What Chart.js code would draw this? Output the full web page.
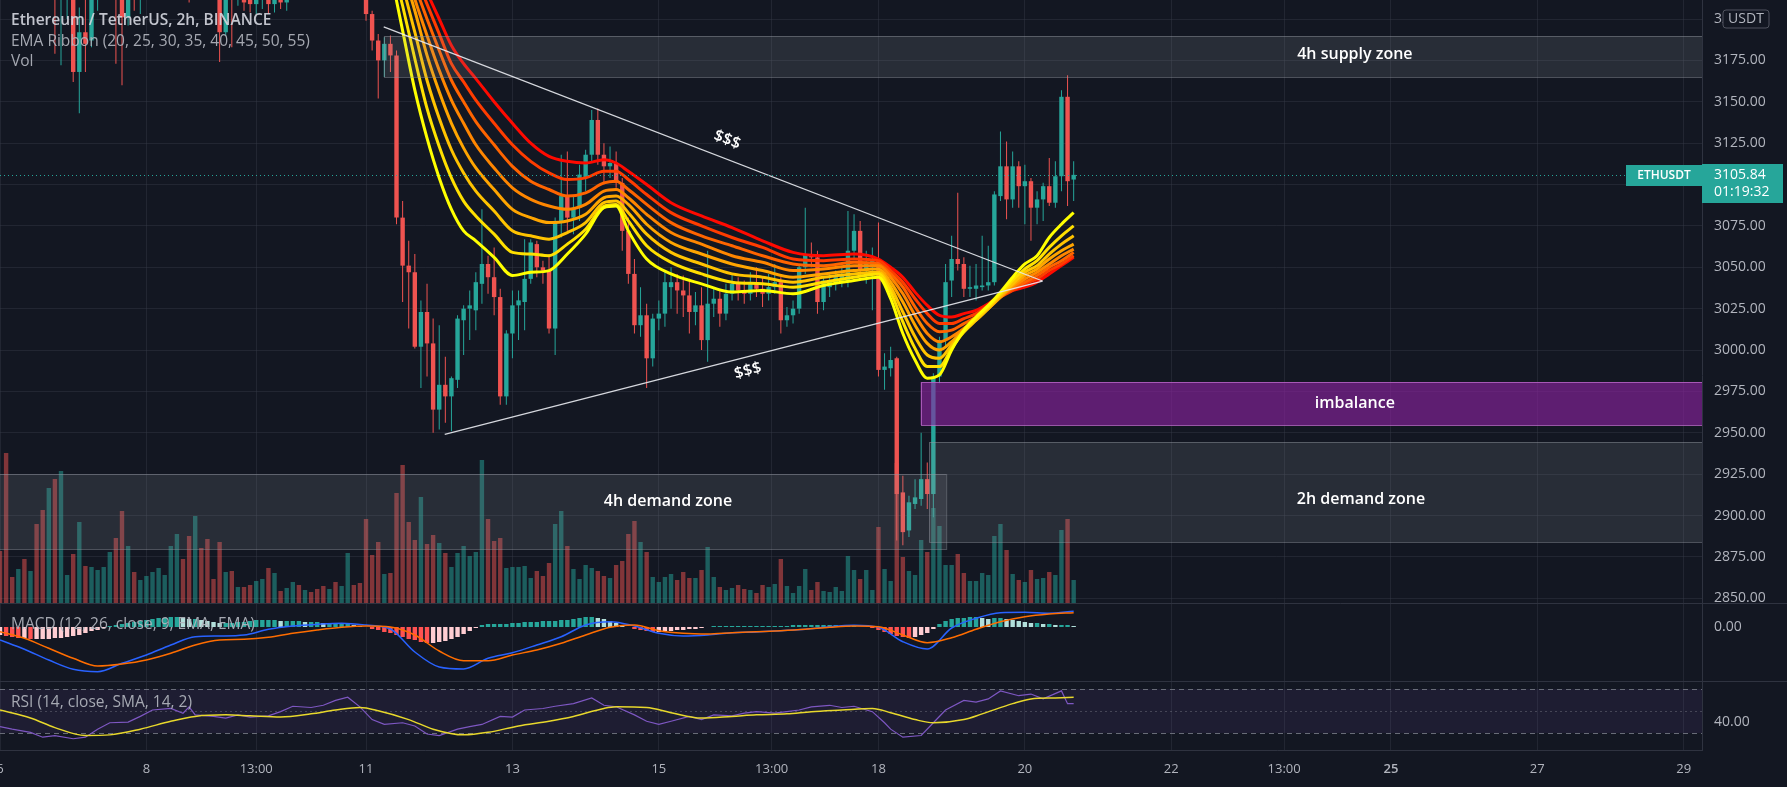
<!DOCTYPE html>
<html>
<head>
<meta charset="utf-8">
<title>ETHUSDT 2h</title>
<script src="https://cdn.jsdelivr.net/npm/chart.js@4.4.0/dist/chart.umd.min.js"></script>
<style>
  html, body { margin: 0; padding: 0; background: #131722; }
  #wrap { width: 1787px; height: 787px; position: relative; background: #131722; }
</style>
</head>
<body>
<div id="wrap"><canvas id="c"></canvas></div>
<script>
// ---- candles (2h bars, index 0 = day 6 00:00) ----
const open = [
  3290,3272,3240,3232,3242,3228,3236,3220,3214,3232, 3214,3225,3228,3168,3192,3187,3218,3226,3234,3246,
  3222,3201,3224,3216,3228,3236,3242,3250,3254,3266, 3280,3270,3252,3274,3262,3246,3240,3192,3225,3214,
  3220,3212,3209,3214,3218,3209,3214,3210,3216,3222, 3218,3226,3222,3218,3214,3220,3215,3224,3240,3230,
  3218,3203,3187,3175,3185,3178,3080,3051,3047,3002, 3023,3004,2964,2979,2972,2982,3018,3025,3024,3040,
  3052,3044,3032,2972,3010,3027,3029,3043,3064,3050, 3048,3013,3078,3093,3080,3086,3104,3118,3139,3118,
  3111,3113,3101,3072,3046,3015,3021,2995,3019,3022, 3038,3041,3036,3033,3023,3027,3006,3028,3031,3022,
  3034,3040,3036,3034,3040,3037,3034,3038,3041,3018, 3021,3025,3050,3058,3056,3029,3038,3040,3042,3042,
  3060,3072,3048,3050,3054,2988,2989,2995,2914,2891, 2907,2910,2922,2913,2984,3006,3042,3055,3052,3037,
  3037,3038,3039,3041,3093,3111,3091,3111,3099,3102, 3086,3091,3099,3089,3105,3153,3103
];
const high = [
  3300,3276,3248,3250,3246,3240,3240,3228,3232,3236, 3230,3240,3234,3207,3216,3224,3232,3240,3252,3250,
  3226,3230,3230,3232,3240,3248,3256,3260,3270,3286, 3288,3276,3280,3282,3268,3252,3244,3230,3232,3224,
  3226,3218,3218,3222,3222,3218,3218,3220,3226,3228, 3232,3230,3226,3222,3224,3226,3230,3250,3246,3234,
  3222,3205,3191,3189,3190,3181,3090,3066,3058,3030, 3040,3019,3015,2996,2984,3021,3027,3036,3047,3085,
  3057,3062,3037,3012,3036,3036,3067,3067,3066,3054, 3058,3080,3118,3120,3093,3112,3121,3145,3146,3125,
  3123,3120,3104,3080,3055,3038,3028,3022,3030,3048, 3050,3046,3045,3043,3035,3038,3060,3038,3036,3040,
  3046,3044,3042,3047,3050,3044,3046,3052,3044,3026, 3030,3052,3086,3065,3060,3044,3046,3048,3050,3084,
  3082,3078,3060,3062,3077,2998,3002,2996,2924,2912, 2922,2950,2932,2986,3008,3052,3069,3095,3056,3051,
  3052,3069,3063,3096,3132,3126,3120,3114,3112,3104, 3096,3101,3116,3114,3157,3166,3114
];
const low = [
  3265,3230,3225,3228,3222,3224,3214,3212,3212,3179, 3172,3200,3162,3143,3168,3183,3205,3220,3228,3173,
  3160,3196,3205,3203,3222,3230,3236,3244,3248,3260, 3264,3210,3248,3256,3240,3234,3174,3190,3183,3208,
  3205,3204,3203,3206,3203,3204,3206,3205,3212,3214, 3214,3216,3214,3212,3212,3212,3213,3220,3226,3214,
  3199,3181,3152,3165,3168,3076,3029,3013,3001,2977, 2984,2950,2952,2956,2951,2977,2997,3006,3012,3028,
  3034,3021,2967,2967,2995,3006,3012,3040,3044,3040, 3010,2997,3068,3072,3070,3078,3096,3113,3112,3100,
  3104,3098,3060,3040,3010,3008,2977,2990,3012,3014, 3025,3022,3020,3010,3015,3000,2993,3020,3014,3018,
  3030,3030,3028,3030,3032,3026,3030,3034,3010,3014, 3016,3022,3046,3050,3022,3024,3032,3036,3038,3038,
  3055,3044,3040,3024,2984,2976,2984,2885,2882,2887, 2904,2906,2904,2899,2980,3002,3032,3048,3032,3032,
  3030,3036,3036,3039,3090,3079,3086,3086,3076,3066, 3076,3078,3087,3086,3096,3087,3090
];
const close = [
  3272,3240,3232,3242,3228,3236,3220,3214,3226,3214, 3225,3232,3168,3192,3185,3218,3226,3234,3246,3222,
  3201,3224,3216,3228,3236,3242,3250,3254,3266,3280, 3270,3252,3274,3262,3246,3240,3192,3225,3214,3220,
  3210,3209,3214,3218,3209,3214,3210,3216,3222,3218, 3226,3222,3218,3214,3220,3215,3224,3240,3230,3218,
  3203,3187,3175,3185,3178,3080,3051,3047,3002,3023, 3004,2964,2979,2972,2983,3019,3025,3027,3041,3052,
  3044,3032,2972,3010,3027,3030,3043,3065,3050,3048, 3013,3078,3093,3080,3086,3106,3118,3139,3118,3111,
  3113,3101,3072,3046,3015,3021,2995,3019,3022,3041, 3041,3036,3033,3023,3027,3006,3028,3031,3022,3034,
  3040,3036,3034,3040,3037,3034,3038,3041,3018,3021, 3025,3050,3058,3056,3029,3042,3042,3044,3046,3060,
  3072,3048,3052,3054,2988,2990,2994,2913,2890,2908, 2911,2922,2913,2984,3006,3041,3055,3052,3037,3038,
  3039,3039,3041,3094,3111,3091,3111,3099,3102,3086, 3091,3099,3089,3105,3153,3102,3105.84
];
const volume = [
  52,150,26,34,44,32,79,93,115,124, 132,28,49,81,37,36,33,36,51,65,
  92,57,31,23,27,31,35,28,57,69, 44,67,87,55,64,24,61,31,32,16,
  16,18,22,24,35,30,12,15,21,18, 13,11,14,17,14,21,17,50,18,20,
  84,48,61,29,30,110,138,81,63,106, 59,68,60,50,36,50,57,47,51,143,
  84,62,65,35,36,36,37,25,32,27, 40,79,92,57,34,24,38,35,32,27,
  25,38,42,69,82,61,51,26,21,26, 29,23,31,25,25,33,56,26,16,13,
  15,18,14,13,10,18,16,19,44,17, 10,17,34,13,21,12,11,16,12,47,
  33,24,33,13,76,34,22,140,46,32, 28,63,51,95,77,38,38,49,30,22,
  22,30,28,67,79,53,29,23,21,33, 24,25,31,28,73,84,23
];

// ---- EMA ribbon (20 ... 55), read at these bar indexes ----
const ribbonIdx = [64,66,68,70,72,74,76,78,81,84,87,90,93,96,99,101,103,106,110,115,120,125,130,135,140,144,146,148,150,152,154,156,158,160,162,164,166,168,170,172,174,176];
const ema20 = [3229,3193,3157,3128,3104,3085,3072,3066,3056,3045,3047,3048,3058,3070,3086,3087,3072,3055,3046,3040,3035,3036,3034,3039,3042,3044,3031,3010,2994,2983,2985,3000,3012,3020,3027,3035,3044,3052,3057,3068,3076,3083];
const ema25 = [3238,3208,3176,3146,3123,3104,3090,3081,3070,3059,3058,3057,3064,3073,3087,3088,3078,3063,3053,3046,3041,3040,3038,3041,3044,3046,3035,3017,3001,2990,2990,3001,3011,3019,3026,3034,3042,3049,3054,3062,3069,3075];
const ema30 = [3245,3220,3192,3163,3140,3121,3107,3096,3084,3072,3069,3067,3071,3077,3089,3090,3083,3070,3059,3052,3046,3044,3041,3044,3046,3047,3038,3023,3008,2997,2995,3003,3011,3018,3025,3033,3040,3047,3051,3058,3064,3069];
const ema35 = [3250,3229,3205,3178,3156,3137,3122,3110,3097,3085,3080,3077,3078,3082,3092,3093,3088,3076,3065,3058,3052,3048,3044,3046,3048,3049,3041,3029,3015,3004,3000,3005,3012,3018,3025,3032,3039,3045,3049,3055,3060,3064];
const ema40 = [3254,3236,3212,3190,3169,3151,3137,3124,3110,3098,3091,3087,3085,3088,3096,3097,3092,3082,3071,3064,3057,3053,3048,3049,3051,3051,3044,3034,3021,3010,3005,3008,3013,3019,3025,3032,3038,3043,3047,3052,3057,3061];
const ema45 = [3257,3241,3220,3200,3181,3163,3150,3138,3124,3111,3102,3097,3093,3095,3101,3102,3097,3088,3077,3069,3063,3057,3052,3051,3053,3052,3046,3038,3026,3016,3011,3012,3016,3020,3026,3032,3037,3041,3045,3050,3054,3059];
const ema50 = [3259,3245,3227,3209,3191,3173,3162,3151,3137,3124,3114,3107,3103,3104,3108,3108,3103,3094,3083,3075,3068,3062,3055,3054,3055,3054,3048,3041,3031,3022,3016,3016,3019,3022,3027,3032,3036,3040,3043,3048,3052,3057];
const ema55 = [3261,3248,3232,3216,3200,3184,3173,3164,3150,3137,3125,3117,3114,3113,3115,3113,3108,3100,3089,3081,3074,3066,3059,3057,3058,3055,3050,3044,3035,3027,3021,3020,3022,3024,3028,3033,3036,3038,3041,3046,3051,3056];
const ribbon = [ema20, ema25, ema30, ema35, ema40, ema45, ema50, ema55];
const ribbonColors = ['#ffff00','#ffe000','#ffc300','#ffa500','#ff8600','#ff6400','#ff3c00','#ff0a00'];

// ---- MACD (12, 26, 9) ----
const macdIdx = [0,4,8,12,16,20,24,28,32,36,40,44,48,52,56,60,64,68,72,76,80,84,88,92,96,100,104,108,112,116,120,124,128,132,136,140,144,148,152,156,160,164,168,172,176];
const macdLine = [-13,-22.3,-33,-42.3,-44.7,-36.3,-28,-18,-9.7,-9,-8,-2.3,1,2.7,3.7,2,-2,-25,-40,-42,-31.3,-25.7,-18,-9.7,2,5.3,1,-6.3,-9,-8,-5.7,-5,-3.7,-2.3,0.3,1.7,-0.3,-14.7,-22,-1,8.7,14.3,14.7,13.7,15.7];
const macdSignal = [-4.7,-11.3,-21.3,-31.3,-39,-37,-33,-26.3,-18,-13,-12.3,-10.3,-6.3,-3,-0.3,1,0,-8,-24,-33.7,-33.7,-28,-23,-16.3,-8,-0.3,2,-3.7,-6.3,-7,-5.7,-4.7,-3.7,-2.3,-0.3,1,0.3,-8,-15.7,-10.7,-2.3,5.3,10.3,13,14.3];
const macdHist = [
  -8,-9,-10,-11,-11,-12,-12,-12,-12,-11, -11,-10,-9,-8,-6,-4,-3,-1,1,2,
  3,4,5,6,7,8,9,9,10,10, 9,8,8,7,6,5,4,4,4,5,
  5,6,7,7,7,7,6,6,6,6, 5,5,5,4,4,4,4,4,2,1,
  0,-2,-3,-5,-6,-8,-10,-12,-13,-15, -16,-16,-15,-14,-12,-10,-7,-4,-1,2,
  3,3,3,3,4,4,5,5,5,6, 6,6,7,7,8,9,10,10,9,8,
  6,4,2,0,-2,-3,-4,-5,-5,-4, -4,-3,-3,-2,-2,-1,0,1,1,1,
  1,1,1,1,1,1,1,1,1,1, 2,2,2,2,2,2,2,2,1,1,
  1,0,0,-1,-3,-5,-7,-9,-10,-11, -10,-8,-6,-2,3,6,8,9,9,10,
  10,9,8,9,9,8,7,6,5,4, 4,3,3,2,2,2,1
];

// ---- RSI (14) and its SMA(14) ----
const rsiIdx = [0,2,5,7,9,12,14,16,18,21,23,25,28,30,31,32,35,37,39,41,44,46,48,51,53,55,57,59,61,63,66,68,70,72,75,77,79,82,84,86,89,91,94,97,99,101,104,106,108,110,113,115,117,120,122,124,127,129,131,133,136,138,140,143,145,146,148,151,153,155,158,160,162,164,167,169,171,174,175,176];
const rsiVal = [35.8,33.5,30.6,26.2,27.7,24.8,26.2,33.5,39.3,39.9,45.1,50.9,52.3,48,53.8,46.5,45.1,43.6,46.5,44.5,45.6,49.4,54.3,53.2,55.2,59.6,62.5,53.8,42.2,37.8,39.3,36.4,29.1,27.7,33.5,35.8,37.8,45.1,44.5,50.9,52.3,54.3,56.7,61.9,55.2,53.8,46.5,40.7,37.8,40.7,45.1,42.2,46.5,45.6,48,49.4,48,49.4,50.9,53.8,55.2,53.2,54.3,49.4,39.3,33.5,26.2,27.7,39.3,50.9,59.6,58.1,61,68.3,63.9,65.4,61,68.3,56.7,56.7];
const rsiMaIdx = [0,5,9,14,18,23,28,32,37,41,46,51,55,59,62,67,71,76,80,85,90,94,99,101,106,110,115,120,124,129,133,138,143,146,150,153,158,161,166,169,173,176];
const rsiMaVal = [50.9,43.6,34.9,27.7,28.3,33.5,40.7,45.1,46.5,45.6,44.5,47.4,50.9,53.2,50.3,42.2,33.5,28.3,30.6,36.4,40.7,45.1,52.3,53.8,53.2,48.5,43.6,45.1,46.5,47.4,49.4,50.9,52.3,48.5,42.2,39.3,42.2,47.4,56.7,61,61.9,62.5];
const rsiLevels = [30, 50, 70];

// ---- axes ----
const priceTicks = [2850,2875,2900,2925,2950,2975,3000,3025,3050,3075,3100,3125,3150,3175,3200];
const timeTicks = [0,24,42,60,84,108,126.5,144,168,192,210.5,228,252,276];
const timeLabels = ['6','8','13:00','11','13','15','13:00','18','20','22','13:00','25','27','29'];

// ---- drawings (bar index, price) ----
const supplyZone = [62.9, 400, 3189.7, 3165.1];
const demand4h = [-10, 155.1, 2924.9, 2879.6];
const imbalance = [150.9, 400, 2980.6, 2954.9];
const demand2h = [152.3, 400, 2944.6, 2884.2];
const zoneLabels = [
  ['4h supply zone', 222.1, 3178.3],
  ['imbalance', 222.1, 2968.0],
  ['2h demand zone', 223.1, 2909.9],
  ['4h demand zone', 109.5, 2908.8]
];
const trendUpper = [[62.9, 3195.3], [170.9, 3041.7]];
const trendLower = [[72.9, 2949.1], [170.9, 3041.7]];
const dollarLabels = [['$$$', 119.2, 3126.9, 0], ['$$$', 122.6, 2987.3, 1]];
const lastPrice = 3105.84;
const countdown = '01:19:32';
const symbol = 'ETHUSDT';
const legendLines = ['Ethereum / TetherUS, 2h, BINANCE', 'EMA Ribbon (20, 25, 30, 35, 40, 45, 50, 55)', 'Vol'];
const paneTitles = ['MACD (12, 26, close, 9, EMA, EMA)', 'RSI (14, close, SMA, 14, 2)'];

const UP = '#26a69a', DN = '#ef5350';
const FONT = '"Open Sans", "DejaVu Sans", sans-serif';
const L = { axisW: 85, timeH: 37, mainBottom: 603, macdBottom: 681 };

const bars = open.map((_, i) => i);
const isUp = i => close[i] >= open[i];
const candleCol = bars.map(i => isUp(i) ? UP : DN);
const volCol = bars.map(i => isUp(i) ? 'rgba(38,166,154,0.5)' : 'rgba(239,83,80,0.5)');
const histCol = macdHist.map((h, i) => {
  const p = i > 0 ? macdHist[i - 1] : h;
  if (h >= 0) return h >= p ? '#26a69a' : '#b2dfdb';
  return h < p ? '#ff5252' : '#ffcdd2';
});
const pts = (xs, ys) => xs.map((x, i) => ({ x: x, y: ys[i] }));

function zoneBox(ctx, chart, z, fill, stroke) {
  const x = chart.scales.x, y = chart.scales.y;
  const x0 = x.getPixelForValue(z[0]), x1 = x.getPixelForValue(z[1]);
  const y0 = Math.round(y.getPixelForValue(z[2])), y1 = Math.round(y.getPixelForValue(z[3]));
  ctx.fillStyle = fill;
  ctx.fillRect(x0, y0, x1 - x0, y1 - y0);
  ctx.strokeStyle = stroke;
  ctx.lineWidth = 1;
  ctx.strokeRect(Math.round(x0) + 0.5, y0 + 0.5, x1 - x0, y1 - y0);
}

const decor = {
  id: 'decor',
  beforeDatasetsDraw(chart) {
    const { ctx, chartArea: a, scales } = chart;
    const yr = scales.yRsi;
    const b = yr.getPixelForValue(rsiLevels[0]), m = yr.getPixelForValue(rsiLevels[1]), t = yr.getPixelForValue(rsiLevels[2]);
    ctx.save();
    ctx.fillStyle = 'rgba(126,87,194,0.10)';
    ctx.fillRect(a.left, t, a.right - a.left, b - t);
    ctx.lineWidth = 1;
    ctx.strokeStyle = 'rgba(120,123,134,0.85)';
    ctx.setLineDash([5, 4]);
    [t, b].forEach(yy => {
      ctx.beginPath(); ctx.moveTo(a.left, Math.round(yy) + 0.5); ctx.lineTo(a.right, Math.round(yy) + 0.5); ctx.stroke();
    });
    ctx.strokeStyle = 'rgba(120,123,134,0.45)';
    ctx.setLineDash([2, 3]);
    ctx.beginPath(); ctx.moveTo(a.left, Math.round(m) + 0.5); ctx.lineTo(a.right, Math.round(m) + 0.5); ctx.stroke();
    ctx.setLineDash([]);
    ctx.strokeStyle = '#2f3340';
    [L.mainBottom, L.macdBottom].forEach(yy => {
      ctx.beginPath(); ctx.moveTo(a.left, yy + 0.5); ctx.lineTo(chart.width, yy + 0.5); ctx.stroke();
    });
    ctx.restore();
  },
  afterDatasetsDraw(chart) {
    const { ctx, chartArea: a, scales } = chart;
    const x = scales.x, y = scales.y;
    ctx.save();
    ctx.beginPath(); ctx.rect(a.left, a.top, a.right - a.left, L.mainBottom - a.top); ctx.clip();

    zoneBox(ctx, chart, supplyZone, 'rgba(149,152,161,0.17)', 'rgba(149,152,161,0.45)');
    zoneBox(ctx, chart, demand4h, 'rgba(149,152,161,0.17)', 'rgba(149,152,161,0.45)');
    zoneBox(ctx, chart, demand2h, 'rgba(149,152,161,0.17)', 'rgba(149,152,161,0.45)');
    zoneBox(ctx, chart, imbalance, 'rgba(141,36,161,0.62)', 'rgba(186,104,200,0.8)');

    // trend lines
    ctx.strokeStyle = 'rgba(230,232,238,0.92)';
    ctx.lineWidth = 1.3;
    const seg = [];
    [trendUpper, trendLower].forEach(tl => {
      const p0 = [x.getPixelForValue(tl[0][0]), y.getPixelForValue(tl[0][1])];
      const p1 = [x.getPixelForValue(tl[1][0]), y.getPixelForValue(tl[1][1])];
      seg.push(Math.atan2(p1[1] - p0[1], p1[0] - p0[0]));
      ctx.beginPath(); ctx.moveTo(p0[0], p0[1]); ctx.lineTo(p1[0], p1[1]); ctx.stroke();
    });

    // texts on drawings
    ctx.fillStyle = '#ffffff';
    ctx.textAlign = 'center';
    ctx.textBaseline = 'middle';
    ctx.font = '600 16px ' + FONT;
    zoneLabels.forEach(z => ctx.fillText(z[0], x.getPixelForValue(z[1]), y.getPixelForValue(z[2])));
    dollarLabels.forEach(d => {
      ctx.save();
      ctx.translate(x.getPixelForValue(d[1]), y.getPixelForValue(d[2]));
      ctx.rotate(seg[d[3]]);
      ctx.fillText(d[0], 0, 0);
      ctx.restore();
    });

    // last price line
    const lp = Math.round(y.getPixelForValue(lastPrice)) + 0.5;
    ctx.strokeStyle = UP;
    ctx.lineWidth = 1;
    ctx.setLineDash([1, 3]);
    ctx.beginPath(); ctx.moveTo(a.left, lp); ctx.lineTo(a.right, lp); ctx.stroke();
    ctx.setLineDash([]);
    ctx.restore();

    ctx.save();
    // symbol tag + price box
    ctx.fillStyle = UP;
    ctx.fillRect(a.right - 76, lp - 10.5, 76, 21);
    ctx.fillRect(a.right, lp - 11.5, chart.width - a.right - 4, 39);
    ctx.fillStyle = '#ffffff';
    ctx.textBaseline = 'middle';
    ctx.textAlign = 'center';
    ctx.font = '600 12px ' + FONT;
    ctx.fillText(symbol, a.right - 38, lp);
    ctx.textAlign = 'left';
    ctx.font = '14px ' + FONT;
    ctx.fillText(lastPrice.toFixed(2), a.right + 12, lp);
    ctx.fillText(countdown, a.right + 12, lp + 17);

    // currency tag over the top price label
    const ty = y.getPixelForValue(priceTicks[priceTicks.length - 1]);
    ctx.fillStyle = '#131722';
    ctx.beginPath();
    ctx.roundRect(a.right + 21, ty - 9, 46, 18, 3);
    ctx.fill();
    ctx.strokeStyle = '#50535e';
    ctx.stroke();
    ctx.fillStyle = '#b2b5be';
    ctx.textAlign = 'center';
    ctx.fillText('USDT', a.right + 44, ty);

    // sub pane scale labels
    ctx.textAlign = 'left';
    ctx.fillText('0.00', a.right + 12, scales.yMacd.getPixelForValue(0));
    ctx.fillText('40.00', a.right + 12, scales.yRsi.getPixelForValue(40));

    // legends
    ctx.font = '600 15.5px ' + FONT;
    ctx.fillStyle = 'rgba(209,212,220,0.92)';
    ctx.fillText(legendLines[0], 11, 21);
    ctx.font = '15.5px ' + FONT;
    ctx.fillStyle = 'rgba(178,181,190,0.92)';
    ctx.fillText(legendLines[1], 11, 42);
    ctx.fillText(legendLines[2], 11, 62);
    ctx.fillText(paneTitles[0], 11, 625);
    ctx.fillText(paneTitles[1], 11, 703);
    ctx.restore();
  }
};

const datasets = [
  { type: 'bar', yAxisID: 'yVol', data: pts(bars, volume), backgroundColor: volCol, barThickness: 4.4, grouped: false, inflateAmount: 0, order: 20 },
  { type: 'bar', yAxisID: 'y', data: bars.map(i => ({ x: i, y: [low[i], high[i]] })), backgroundColor: candleCol, barThickness: 1, grouped: false, inflateAmount: 0, order: 19 },
  { type: 'bar', yAxisID: 'y', data: bars.map(i => ({ x: i, y: [open[i], close[i]] })), backgroundColor: candleCol, barThickness: 4.4, minBarLength: 1, grouped: false, inflateAmount: 0, order: 18 }
];
ribbon.forEach((r, k) => datasets.push({
  type: 'line', yAxisID: 'y', data: pts(ribbonIdx, r), borderColor: ribbonColors[k], borderWidth: 3,
  pointRadius: 0, cubicInterpolationMode: 'monotone', order: 10 + k
}));
datasets.push(
  { type: 'bar', yAxisID: 'yMacd', data: pts(bars, macdHist), backgroundColor: histCol, barThickness: 4.4, grouped: false, inflateAmount: 0, order: 5 },
  { type: 'line', yAxisID: 'yMacd', data: pts(macdIdx, macdLine), borderColor: '#2962ff', borderWidth: 1.5, pointRadius: 0, cubicInterpolationMode: 'monotone', order: 4 },
  { type: 'line', yAxisID: 'yMacd', data: pts(macdIdx, macdSignal), borderColor: '#ff6d00', borderWidth: 1.5, pointRadius: 0, cubicInterpolationMode: 'monotone', order: 3 },
  { type: 'line', yAxisID: 'yRsi', data: pts(rsiIdx, rsiVal), borderColor: '#7e57c2', borderWidth: 1.2, pointRadius: 0, tension: 0, order: 2 },
  { type: 'line', yAxisID: 'yRsi', data: pts(rsiMaIdx, rsiMaVal), borderColor: '#e8d82c', borderWidth: 1.5, pointRadius: 0, cubicInterpolationMode: 'monotone', order: 1 }
);

const GRID = 'rgba(54,58,70,0.45)';
new Chart(document.getElementById('c'), {
  type: 'bar',
  data: { datasets: datasets },
  options: {
    responsive: true,
    maintainAspectRatio: false,
    animation: false,
    events: [],
    layout: { padding: 0, autoPadding: false },
    plugins: { legend: { display: false }, tooltip: { enabled: false } },
    scales: {
      x: {
        type: 'linear', position: 'bottom', min: 0, max: 279, offset: false, bounds: 'data',
        afterBuildTicks: s => { s.ticks = timeTicks.map(v => ({ value: v })); },
        afterFit: s => { s.height = L.timeH; s.paddingLeft = 0; s.paddingRight = 0; },
        grid: { color: GRID, drawTicks: false, offset: false },
        border: { color: '#2f3340' },
        ticks: {
          autoSkip: false, maxRotation: 0, padding: 11, color: '#b2b5be',
          font: c => ({ family: FONT, size: 13, weight: timeLabels[c.index] === '25' ? '600' : '400' }),
          callback: (v, i) => timeLabels[i]
        }
      },
      y: {
        type: 'linear', position: 'right', min: 2758.36, max: 3211.48, beginAtZero: false, bounds: 'data',
        afterBuildTicks: s => { s.ticks = priceTicks.map(v => ({ value: v })); },
        afterFit: s => { s.width = L.axisW; s.paddingTop = 0; s.paddingBottom = 0; },
        grid: { color: GRID, drawTicks: false },
        border: { color: '#2f3340' },
        ticks: { padding: 12, color: '#b2b5be', font: { family: FONT, size: 14 }, callback: v => v.toFixed(2) }
      },
      yVol: { type: 'linear', display: false, min: -147, max: 603, beginAtZero: false },
      yMacd: { type: 'linear', display: false, min: -123, max: 627, beginAtZero: false },
      yRsi: { type: 'linear', display: false, min: 14.55, max: 696.36, beginAtZero: false }
    }
  },
  plugins: [decor]
});
</script>
</body>
</html>
